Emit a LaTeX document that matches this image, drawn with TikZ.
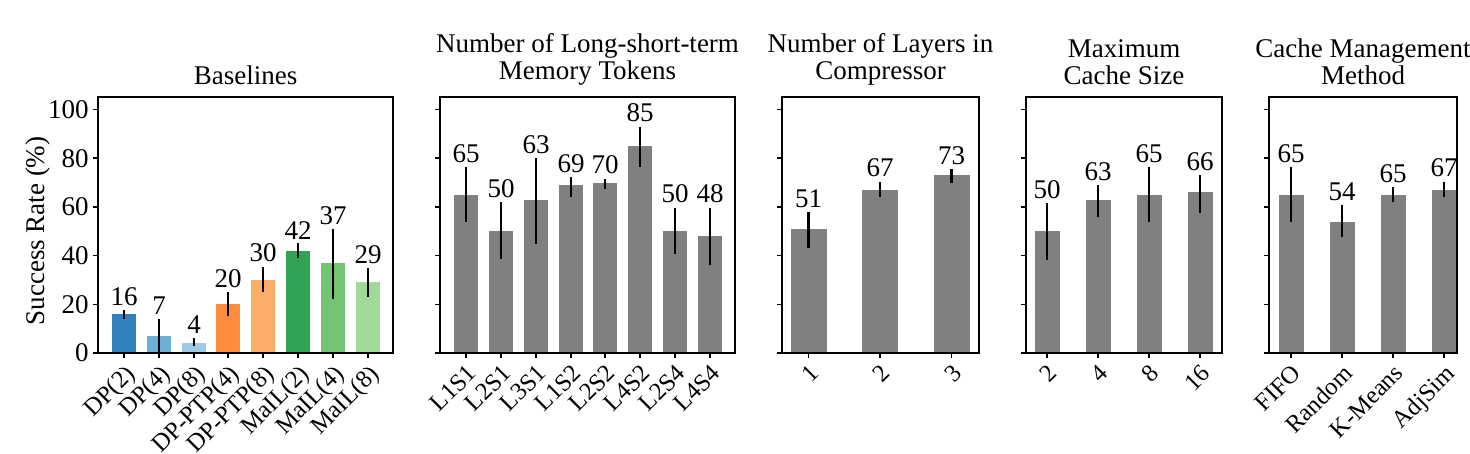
\documentclass[tikz,border=0pt]{standalone}
\usepackage{fontspec}
\setmainfont{Liberation Serif}
\definecolor{c1}{HTML}{3182BD}\definecolor{c2}{HTML}{6BAED6}\definecolor{c3}{HTML}{9ECAE1}
\definecolor{c4}{HTML}{FD8D3C}\definecolor{c5}{HTML}{FDAE6B}\definecolor{c6}{HTML}{31A354}
\definecolor{c7}{HTML}{74C476}\definecolor{c8}{HTML}{A1D99B}\definecolor{gb}{HTML}{808080}
\newcommand{\mybar}[7]{% x, width, value, lo, hi, color, label
  \fill[#6] ({#1-#2/2},353) rectangle ({#1+#2/2},{353-2.435*#3});
  \draw[err] (#1,{353-2.435*#4}) -- (#1,{353-2.435*#5});
  \node[val] at (#1,{353-2.435*#5}) {\the\numexpr#3\relax};
  \draw[axis] (#1,353) -- (#1,358);
  \node[xl] at (#1,360) {#7};}
\newcommand{\mypanel}[2]{% left, right
  \draw[axis] (#1,97) rectangle (#2,353);
  \foreach \v in {0,20,...,100} \draw[axis] (#1,{353-2.435*\v}) -- ({#1-5},{353-2.435*\v});}
\begin{document}
\begin{tikzpicture}[x=0.5pt,y=-0.5pt,
  axis/.style={line width=0.7pt,black},
  err/.style={line width=1.3pt,black},
  val/.style={anchor=south,inner sep=2pt,font=\fontsize{13.5}{15}\selectfont},
  xl/.style={anchor=north east,rotate=45,inner sep=1pt,font=\fontsize{12.3}{14}\selectfont},
  yl/.style={anchor=east,inner sep=2pt,font=\fontsize{13.5}{15}\selectfont},
  ttl/.style={align=center,font=\fontsize{13.5}{13.5}\selectfont,anchor=south}]
\useasboundingbox (0,0) rectangle (1470,454);
% panel 1
\mybar{124}{24.5}{16}{14}{17.5}{c1}{DP(2)}
\mybar{159}{24.5}{7}{0}{14}{c2}{DP(4)}
\mybar{194}{24.5}{4}{3}{6}{c3}{DP(8)}
\mybar{228}{24.5}{20}{15}{25}{c4}{DP-PTP(4)}
\mybar{263}{24.5}{30}{25}{35.5}{c5}{DP-PTP(8)}
\mybar{298}{24.5}{42}{39}{45}{c6}{MaIL(2)}
\mybar{333}{24.5}{37}{22}{51}{c7}{MaIL(4)}
\mybar{368}{24.5}{29}{23}{35}{c8}{MaIL(8)}
\mypanel{98}{393}
\foreach \v in {0,20,...,100} \node[yl] at (93,{353-2.435*\v}) {\v};
\node[rotate=90,font=\fontsize{13.5}{15}\selectfont] at (38,231) {Success Rate (\%)};
\node[ttl] at (245.5,92) {Baselines};
% panel 2
\mybar{466}{24.5}{65}{54}{76.4}{gb}{L1S1}
\mybar{501}{24.5}{50}{38.6}{62}{gb}{L2S1}
\mybar{536}{24.5}{63}{44.8}{80}{gb}{L3S1}
\mybar{571}{24.5}{69}{64}{72.4}{gb}{L1S2}
\mybar{605}{24.5}{70}{67.5}{71.6}{gb}{L2S2}
\mybar{640}{24.5}{85}{76.4}{93}{gb}{L4S2}
\mybar{675}{24.5}{50}{40.7}{59.7}{gb}{L2S4}
\mybar{710}{24.5}{48}{36.3}{59.7}{gb}{L4S4}
\mypanel{440}{735}
\node[ttl] at (587.5,92) {Number of Long-short-term\\Memory Tokens};
% panel 3
\mybar{808.7}{35.7}{51}{43}{58}{gb}{1}
\mybar{880}{35.7}{67}{64.2}{70.4}{gb}{2}
\mybar{951.7}{35.7}{73}{70}{75.4}{gb}{3}
\mypanel{782}{979}
\node[ttl] at (880.5,92) {Number of Layers in\\Compressor};
% panel 4
\mybar{1047}{25}{50}{38.2}{61.5}{gb}{2}
\mybar{1098}{25}{63}{55.7}{69}{gb}{4}
\mybar{1149}{25}{65}{53.7}{76.3}{gb}{8}
\mybar{1200}{25}{66}{57.6}{73}{gb}{16}
\mypanel{1026}{1222}
\node[ttl] at (1124,92) {Maximum\\Cache Size};
% panel 5
\mybar{1291}{25}{65}{53.7}{76.3}{gb}{FIFO}
\mybar{1342}{25}{54}{47.7}{60.6}{gb}{Random}
\mybar{1393}{25}{65}{62}{68}{gb}{K-Means}
\mybar{1444}{25}{67}{64}{70.4}{gb}{AdjSim}
\mypanel{1269}{1457}
\node[ttl] at (1363,92) {Cache Management\\Method};
\end{tikzpicture}
\end{document}
